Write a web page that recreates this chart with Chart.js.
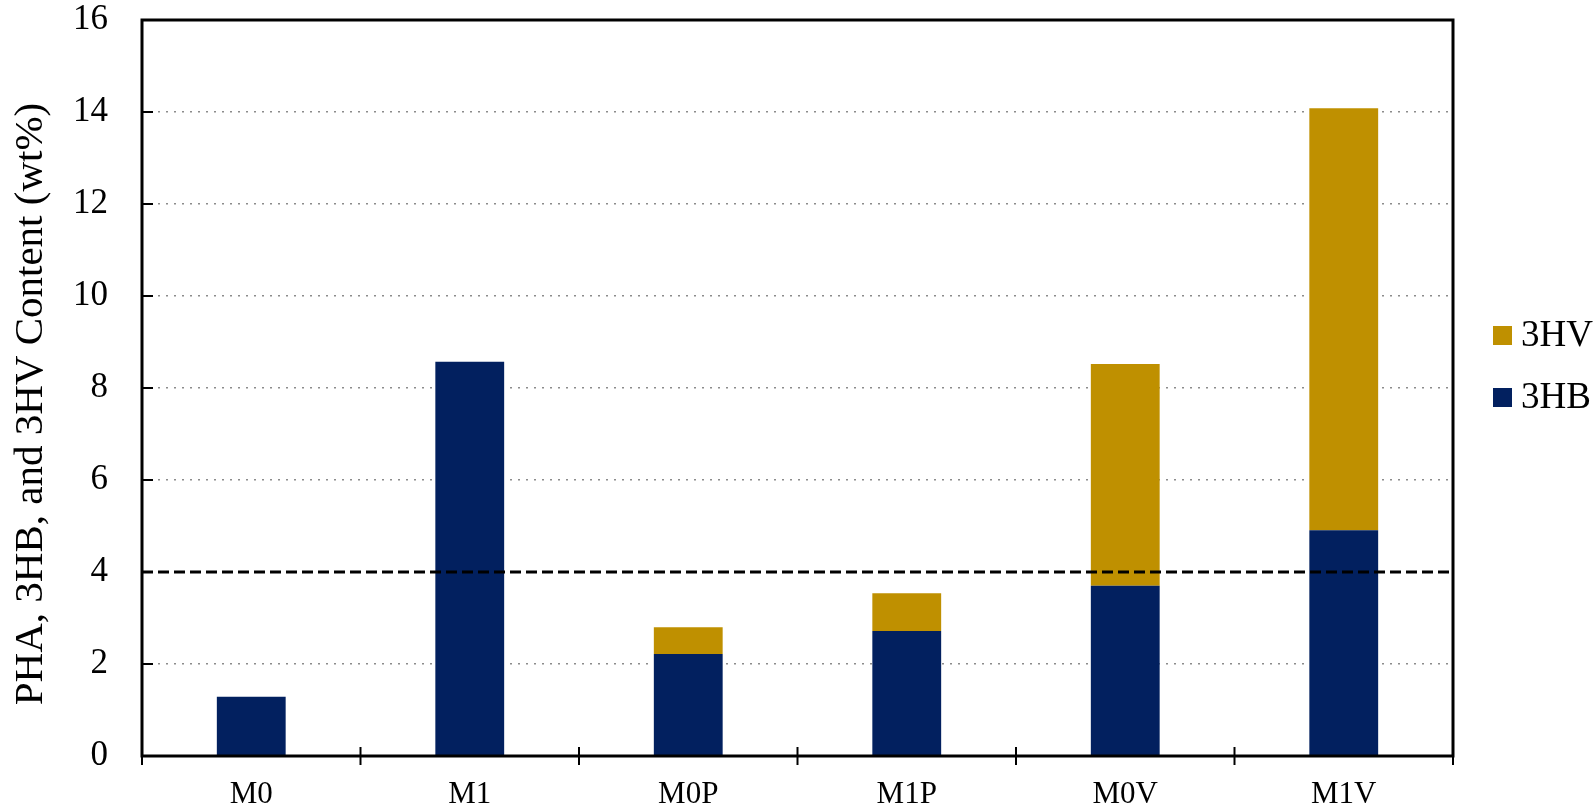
<!DOCTYPE html>
<html>
<head>
<meta charset="utf-8">
<script src="https://cdn.jsdelivr.net/npm/chart.js@4.4.1/dist/chart.umd.min.js"></script>
<style>
    html, body { margin: 0; padding: 0; background: #ffffff; }
    #wrap { width: 1594px; height: 812px; }
</style>
</head>
<body>
<div id="wrap"><canvas id="c" width="1594" height="812"></canvas></div>
<script>
// muestras y contenidos (wt%)
const categorias = ['M0', 'M1', 'M0P', 'M1P', 'M0V', 'M1V'];
const valores3HB = [1.29, 8.57, 2.22, 2.72, 3.70, 4.91];
const valores3HV = [0, 0, 0.58, 0.82, 4.82, 9.17];
const ticksY = [0, 2, 4, 6, 8, 10, 12, 14, 16];
const umbral = 4;

const AZUL = '#02205f';
const ORO = '#bf9000';
const FUENTE = '"Liberation Serif", "Times New Roman", serif';

const marcoYTicks = {
    id: 'marcoYTicks',
    afterDatasetsDraw(c) {
        const { ctx, chartArea: a, scales: { x, y } } = c;
        ctx.save();
        // línea discontinua del umbral
        const yu = y.getPixelForValue(umbral);
        ctx.strokeStyle = '#000000';
        ctx.lineWidth = 3;
        ctx.setLineDash([11, 5]);
        ctx.beginPath();
        ctx.moveTo(a.left, yu);
        ctx.lineTo(a.right, yu);
        ctx.stroke();
        ctx.setLineDash([]);
        // marco
        ctx.lineWidth = 3;
        ctx.strokeRect(a.left, a.top, a.right - a.left, a.bottom - a.top);
        // ticks eje y hacia dentro
        ctx.lineWidth = 2;
        ticksY.forEach((v) => {
            const py = y.getPixelForValue(v);
            ctx.beginPath();
            ctx.moveTo(a.left, py);
            ctx.lineTo(a.left + 11, py);
            ctx.stroke();
        });
        // ticks eje x entre categorías
        for (let i = 0; i <= categorias.length; i++) {
            const px = x.getPixelForValue(i - 0.5);
            ctx.beginPath();
            ctx.moveTo(px, a.bottom - 9);
            ctx.lineTo(px, a.bottom + 9);
            ctx.stroke();
        }
        // título eje y
        ctx.fillStyle = '#000000';
        ctx.font = '41px ' + FUENTE;
        ctx.textAlign = 'center';
        ctx.textBaseline = 'middle';
        ctx.translate(31, 404);
        ctx.rotate(-Math.PI / 2);
        ctx.fillText('PHA, 3HB, and 3HV Content (wt%)', 0, 0);
        ctx.restore();

        // leyenda (orden invertido: 3HV arriba)
        ctx.save();
        ctx.font = '37px ' + FUENTE;
        ctx.textBaseline = 'middle';
        ctx.textAlign = 'left';
        const items = [...c.data.datasets].reverse();
        items.forEach((ds, i) => {
            const cy = 335 + i * 62;
            ctx.fillStyle = ds.backgroundColor;
            ctx.fillRect(1493, cy - 9, 19, 19);
            ctx.fillStyle = '#000000';
            ctx.fillText(ds.label, 1521, cy + 1);
        });
        ctx.restore();
    },
};

new Chart(document.getElementById('c'), {
    type: 'bar',
    data: {
        labels: categorias,
        datasets: [
            { label: '3HB', data: valores3HB, backgroundColor: AZUL, barPercentage: 0.315, categoryPercentage: 1 },
            { label: '3HV', data: valores3HV, backgroundColor: ORO, barPercentage: 0.315, categoryPercentage: 1 },
        ],
    },
    options: {
        responsive: false,
        animation: false,
        devicePixelRatio: 1,
        layout: { padding: { top: 20, right: 141, left: 0, bottom: 0 } },
        plugins: { legend: { display: false }, tooltip: { enabled: false } },
        scales: {
            x: {
                stacked: true,
                grid: { display: false, drawTicks: false },
                border: { display: false },
                ticks: { color: '#000000', font: { size: 31, family: FUENTE }, padding: 20 },
                afterFit(s) {
                    s.height = 56;
                    s.paddingLeft = 0;
                    s.paddingRight = 0;
                },
            },
            y: {
                stacked: true,
                min: 0,
                max: 16,
                afterBuildTicks(s) { s.ticks = ticksY.map((v) => ({ value: v })); },
                grid: {
                    drawTicks: false,
                    lineWidth: 1.5,
                    color: (ctx) => (ctx.tick && (ctx.tick.value === 0 || ctx.tick.value === 16) ? 'rgba(0,0,0,0)' : '#8c8c8c'),
                },
                border: { display: false, dash: [2, 6] },
                ticks: { color: '#000000', font: { size: 35, family: FUENTE }, padding: 34 },
                afterFit(s) {
                    s.width = 142;
                    s.paddingTop = 0;
                    s.paddingBottom = 0;
                },
            },
        },
    },
    plugins: [marcoYTicks],
});
</script>
</body>
</html>
